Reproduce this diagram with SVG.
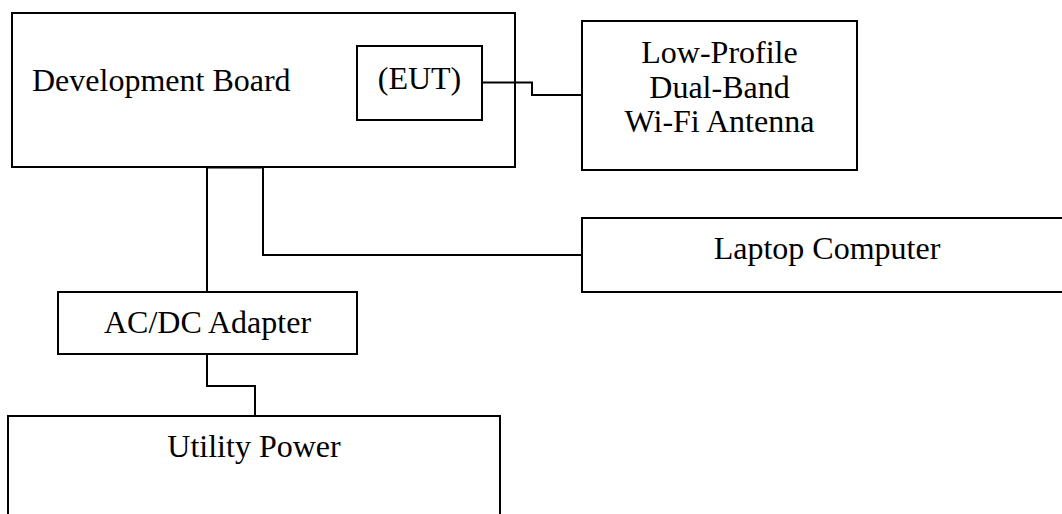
<svg xmlns="http://www.w3.org/2000/svg" width="1062" height="514" viewBox="0 0 1062 514">
  <style>
    .box { fill: #ffffff; stroke: #000000; stroke-width: 2; }
    .wire { fill: none; stroke: #000000; stroke-width: 2; stroke-linejoin: miter; }
    .label { font-family: "Liberation Serif", "Times New Roman", serif; font-size: 32px; fill: #000000; }
    .mid { text-anchor: middle; }
  </style>
  <rect width="1062" height="514" fill="#ffffff"/>

  <g id="dev-board">
    <rect class="box" x="12" y="13" width="503" height="154"/>
    <text class="label" x="32" y="91">Development Board</text>
  </g>

  <g id="eut">
    <rect class="box" x="357" y="46" width="125" height="74"/>
    <text class="label mid" x="419.5" y="89">(EUT)</text>
  </g>

  <g id="antenna">
    <rect class="box" x="582" y="21" width="275" height="149"/>
    <text class="label mid" x="719.5" y="63">Low-Profile</text>
    <text class="label mid" x="719.5" y="97.5">Dual-Band</text>
    <text class="label mid" x="719.5" y="132">Wi-Fi Antenna</text>
  </g>

  <g id="laptop">
    <rect class="box" x="582" y="218" width="490" height="74"/>
    <text class="label mid" x="827" y="259">Laptop Computer</text>
  </g>

  <g id="adapter">
    <rect class="box" x="58" y="292" width="299" height="62"/>
    <text class="label mid" x="207.5" y="333">AC/DC Adapter</text>
  </g>

  <g id="utility-power">
    <rect class="box" x="8" y="416" width="492" height="110"/>
    <text class="label mid" x="254" y="457">Utility Power</text>
  </g>

  <!-- cables between units, drawn over the box outlines -->
  <g id="connectors">
    <polyline class="wire" points="482,82.5 532,82.5 532,95 582,95"/>
    <polyline class="wire" points="207,167 207,292"/>
    <polyline class="wire" stroke-width="3" points="207,167.5 263,167.5"/>
    <polyline class="wire" points="263,167 263,255 582,255"/>
    <polyline class="wire" points="207,354 207,386 255,386 255,416"/>
  </g>
</svg>
